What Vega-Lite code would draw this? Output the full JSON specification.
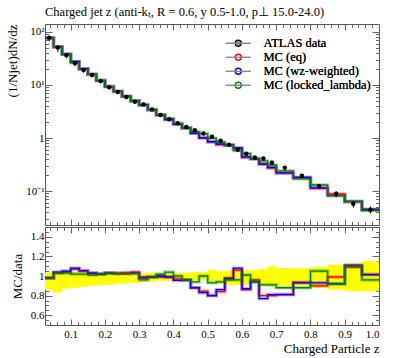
{
  "$schema": "https://vega.github.io/schema/vega-lite/v6.json",
  "background": "white",
  "padding": {"left": 6, "top": 5, "right": 5, "bottom": 5},
  "spacing": 0,
  "config": {
    "font": "Liberation Serif",
    "view": {"stroke": "#555", "strokeWidth": 1},
    "axis": {"domain": false, "grid": false, "tickColor": "#666", "tickWidth": 1, "labelFont": "Liberation Serif", "labelFontSize": 11, "labelColor": "#000", "titleFont": "Liberation Serif", "titleFontSize": 13, "titleFontWeight": "normal", "titleColor": "#000"},
    "concat": {"spacing": 0}
  },
  "datasets": {
    "atlas": [
      {"lo":0.025,"hi":0.05,"z":0.0375,"v":78,"ylo":67.1,"yhi":80.7,"blo":0.86,"bhi":1.035},
      {"lo":0.05,"hi":0.075,"z":0.0625,"v":50.6,"ylo":42.0,"yhi":52.4,"blo":0.83,"bhi":1.035},
      {"lo":0.075,"hi":0.1,"z":0.0875,"v":36.3,"ylo":31.6,"yhi":37.8,"blo":0.87,"bhi":1.04},
      {"lo":0.1,"hi":0.125,"z":0.1125,"v":25.7,"ylo":22.6,"yhi":26.7,"blo":0.88,"bhi":1.04},
      {"lo":0.125,"hi":0.15,"z":0.1375,"v":19.2,"ylo":17.1,"yhi":20.0,"blo":0.89,"bhi":1.04},
      {"lo":0.15,"hi":0.175,"z":0.1625,"v":15.4,"ylo":13.9,"yhi":15.9,"blo":0.9,"bhi":1.035},
      {"lo":0.175,"hi":0.2,"z":0.1875,"v":11.9,"ylo":10.8,"yhi":12.3,"blo":0.905,"bhi":1.035},
      {"lo":0.2,"hi":0.225,"z":0.2125,"v":9.04,"ylo":8.23,"yhi":9.31,"blo":0.91,"bhi":1.03},
      {"lo":0.225,"hi":0.25,"z":0.2375,"v":7.38,"ylo":6.79,"yhi":7.6,"blo":0.92,"bhi":1.03},
      {"lo":0.25,"hi":0.275,"z":0.2625,"v":5.94,"ylo":5.49,"yhi":6.12,"blo":0.925,"bhi":1.03},
      {"lo":0.275,"hi":0.3,"z":0.2875,"v":4.84,"ylo":4.5,"yhi":4.99,"blo":0.93,"bhi":1.03},
      {"lo":0.3,"hi":0.325,"z":0.3125,"v":4.3,"ylo":4.04,"yhi":4.43,"blo":0.94,"bhi":1.03},
      {"lo":0.325,"hi":0.35,"z":0.3375,"v":3.45,"ylo":3.26,"yhi":3.55,"blo":0.945,"bhi":1.03},
      {"lo":0.35,"hi":0.375,"z":0.3625,"v":2.72,"ylo":2.58,"yhi":2.8,"blo":0.95,"bhi":1.03},
      {"lo":0.375,"hi":0.4,"z":0.3875,"v":2.25,"ylo":2.14,"yhi":2.32,"blo":0.95,"bhi":1.03},
      {"lo":0.4,"hi":0.425,"z":0.4125,"v":1.89,"ylo":1.8,"yhi":1.95,"blo":0.95,"bhi":1.03},
      {"lo":0.425,"hi":0.45,"z":0.4375,"v":1.61,"ylo":1.54,"yhi":1.67,"blo":0.955,"bhi":1.035},
      {"lo":0.45,"hi":0.475,"z":0.4625,"v":1.4,"ylo":1.34,"yhi":1.46,"blo":0.96,"bhi":1.04},
      {"lo":0.475,"hi":0.5,"z":0.4875,"v":1.21,"ylo":1.16,"yhi":1.26,"blo":0.96,"bhi":1.04},
      {"lo":0.5,"hi":0.525,"z":0.5125,"v":1.06,"ylo":1.0,"yhi":1.13,"blo":0.945,"bhi":1.065},
      {"lo":0.525,"hi":0.55,"z":0.5375,"v":0.89,"ylo":0.83,"yhi":0.93,"blo":0.93,"bhi":1.05},
      {"lo":0.55,"hi":0.575,"z":0.5625,"v":0.75,"ylo":0.68,"yhi":0.79,"blo":0.91,"bhi":1.055},
      {"lo":0.575,"hi":0.6,"z":0.5875,"v":0.6,"ylo":0.546,"yhi":0.645,"blo":0.91,"bhi":1.075},
      {"lo":0.6,"hi":0.625,"z":0.6125,"v":0.505,"ylo":0.46,"yhi":0.535,"blo":0.91,"bhi":1.06},
      {"lo":0.625,"hi":0.65,"z":0.6375,"v":0.43,"ylo":0.396,"yhi":0.458,"blo":0.92,"bhi":1.065},
      {"lo":0.65,"hi":0.675,"z":0.6625,"v":0.41,"ylo":0.369,"yhi":0.439,"blo":0.9,"bhi":1.07},
      {"lo":0.675,"hi":0.7,"z":0.6875,"v":0.342,"ylo":0.306,"yhi":0.376,"blo":0.895,"bhi":1.1},
      {"lo":0.7,"hi":0.75,"z":0.725,"v":0.275,"ylo":0.248,"yhi":0.297,"blo":0.9,"bhi":1.08},
      {"lo":0.75,"hi":0.8,"z":0.775,"v":0.194,"ylo":0.175,"yhi":0.21,"blo":0.9,"bhi":1.08},
      {"lo":0.8,"hi":0.85,"z":0.825,"v":0.124,"ylo":0.109,"yhi":0.135,"blo":0.88,"bhi":1.09},
      {"lo":0.85,"hi":0.9,"z":0.875,"v":0.089,"ylo":0.0765,"yhi":0.0992,"blo":0.86,"bhi":1.115},
      {"lo":0.9,"hi":0.95,"z":0.925,"v":0.0575,"ylo":0.0486,"yhi":0.065,"blo":0.845,"bhi":1.13},
      {"lo":0.95,"hi":1.0,"z":0.975,"v":0.0444,"ylo":0.0375,"yhi":0.0511,"blo":0.845,"bhi":1.15}
    ],
    "mc": [
      {"s":"MC (eq)","lo":0.025,"hi":0.05,"v":76.4,"r":0.98},
      {"s":"MC (eq)","lo":0.05,"hi":0.075,"v":52.1,"r":1.03},
      {"s":"MC (eq)","lo":0.075,"hi":0.1,"v":37.8,"r":1.04},
      {"s":"MC (eq)","lo":0.1,"hi":0.125,"v":27.5,"r":1.07},
      {"s":"MC (eq)","lo":0.125,"hi":0.15,"v":20.2,"r":1.05},
      {"s":"MC (eq)","lo":0.15,"hi":0.175,"v":15.9,"r":1.03},
      {"s":"MC (eq)","lo":0.175,"hi":0.2,"v":12.1,"r":1.02},
      {"s":"MC (eq)","lo":0.2,"hi":0.225,"v":9.31,"r":1.03},
      {"s":"MC (eq)","lo":0.225,"hi":0.25,"v":7.6,"r":1.03},
      {"s":"MC (eq)","lo":0.25,"hi":0.275,"v":6.15,"r":1.035},
      {"s":"MC (eq)","lo":0.275,"hi":0.3,"v":5.03,"r":1.04},
      {"s":"MC (eq)","lo":0.3,"hi":0.325,"v":4.26,"r":0.99},
      {"s":"MC (eq)","lo":0.325,"hi":0.35,"v":3.42,"r":0.99},
      {"s":"MC (eq)","lo":0.35,"hi":0.375,"v":2.69,"r":0.99},
      {"s":"MC (eq)","lo":0.375,"hi":0.4,"v":2.23,"r":0.99},
      {"s":"MC (eq)","lo":0.4,"hi":0.425,"v":1.83,"r":0.97},
      {"s":"MC (eq)","lo":0.425,"hi":0.45,"v":1.55,"r":0.96},
      {"s":"MC (eq)","lo":0.45,"hi":0.475,"v":1.23,"r":0.88},
      {"s":"MC (eq)","lo":0.475,"hi":0.5,"v":1.02,"r":0.845},
      {"s":"MC (eq)","lo":0.5,"hi":0.525,"v":0.85,"r":0.8},
      {"s":"MC (eq)","lo":0.525,"hi":0.55,"v":0.75,"r":0.84},
      {"s":"MC (eq)","lo":0.55,"hi":0.575,"v":0.735,"r":0.98},
      {"s":"MC (eq)","lo":0.575,"hi":0.6,"v":0.64,"r":1.06},
      {"s":"MC (eq)","lo":0.6,"hi":0.625,"v":0.43,"r":0.86},
      {"s":"MC (eq)","lo":0.625,"hi":0.65,"v":0.41,"r":0.96},
      {"s":"MC (eq)","lo":0.65,"hi":0.675,"v":0.33,"r":0.8},
      {"s":"MC (eq)","lo":0.675,"hi":0.7,"v":0.27,"r":0.8},
      {"s":"MC (eq)","lo":0.7,"hi":0.75,"v":0.22,"r":0.81},
      {"s":"MC (eq)","lo":0.75,"hi":0.8,"v":0.18,"r":0.935},
      {"s":"MC (eq)","lo":0.8,"hi":0.85,"v":0.112,"r":0.9},
      {"s":"MC (eq)","lo":0.85,"hi":0.9,"v":0.088,"r":0.99},
      {"s":"MC (eq)","lo":0.9,"hi":0.95,"v":0.063,"r":1.09},
      {"s":"MC (eq)","lo":0.95,"hi":1.0,"v":0.045,"r":1.015},
      {"s":"MC (wz-weighted)","lo":0.025,"hi":0.05,"v":76.4,"r":0.98},
      {"s":"MC (wz-weighted)","lo":0.05,"hi":0.075,"v":52.6,"r":1.04},
      {"s":"MC (wz-weighted)","lo":0.075,"hi":0.1,"v":38.1,"r":1.05},
      {"s":"MC (wz-weighted)","lo":0.1,"hi":0.125,"v":27.8,"r":1.08},
      {"s":"MC (wz-weighted)","lo":0.125,"hi":0.15,"v":20.3,"r":1.055},
      {"s":"MC (wz-weighted)","lo":0.15,"hi":0.175,"v":15.9,"r":1.03},
      {"s":"MC (wz-weighted)","lo":0.175,"hi":0.2,"v":12.1,"r":1.02},
      {"s":"MC (wz-weighted)","lo":0.2,"hi":0.225,"v":9.31,"r":1.03},
      {"s":"MC (wz-weighted)","lo":0.225,"hi":0.25,"v":7.56,"r":1.025},
      {"s":"MC (wz-weighted)","lo":0.25,"hi":0.275,"v":6.09,"r":1.025},
      {"s":"MC (wz-weighted)","lo":0.275,"hi":0.3,"v":4.99,"r":1.03},
      {"s":"MC (wz-weighted)","lo":0.3,"hi":0.325,"v":4.21,"r":0.98},
      {"s":"MC (wz-weighted)","lo":0.325,"hi":0.35,"v":3.42,"r":0.99},
      {"s":"MC (wz-weighted)","lo":0.35,"hi":0.375,"v":2.72,"r":1.0},
      {"s":"MC (wz-weighted)","lo":0.375,"hi":0.4,"v":2.23,"r":0.99},
      {"s":"MC (wz-weighted)","lo":0.4,"hi":0.425,"v":1.8,"r":0.955},
      {"s":"MC (wz-weighted)","lo":0.425,"hi":0.45,"v":1.55,"r":0.96},
      {"s":"MC (wz-weighted)","lo":0.45,"hi":0.475,"v":1.23,"r":0.88},
      {"s":"MC (wz-weighted)","lo":0.475,"hi":0.5,"v":1.0,"r":0.83},
      {"s":"MC (wz-weighted)","lo":0.5,"hi":0.525,"v":0.85,"r":0.8},
      {"s":"MC (wz-weighted)","lo":0.525,"hi":0.55,"v":0.77,"r":0.86},
      {"s":"MC (wz-weighted)","lo":0.55,"hi":0.575,"v":0.73,"r":0.97},
      {"s":"MC (wz-weighted)","lo":0.575,"hi":0.6,"v":0.65,"r":1.08},
      {"s":"MC (wz-weighted)","lo":0.6,"hi":0.625,"v":0.44,"r":0.87},
      {"s":"MC (wz-weighted)","lo":0.625,"hi":0.65,"v":0.4,"r":0.94},
      {"s":"MC (wz-weighted)","lo":0.65,"hi":0.675,"v":0.32,"r":0.77},
      {"s":"MC (wz-weighted)","lo":0.675,"hi":0.7,"v":0.28,"r":0.81},
      {"s":"MC (wz-weighted)","lo":0.7,"hi":0.75,"v":0.22,"r":0.81},
      {"s":"MC (wz-weighted)","lo":0.75,"hi":0.8,"v":0.18,"r":0.93},
      {"s":"MC (wz-weighted)","lo":0.8,"hi":0.85,"v":0.115,"r":0.93},
      {"s":"MC (wz-weighted)","lo":0.85,"hi":0.9,"v":0.082,"r":0.92},
      {"s":"MC (wz-weighted)","lo":0.9,"hi":0.95,"v":0.064,"r":1.11},
      {"s":"MC (wz-weighted)","lo":0.95,"hi":1.0,"v":0.045,"r":1.015},
      {"s":"MC (locked_lambda)","lo":0.025,"hi":0.05,"v":76.4,"r":0.98},
      {"s":"MC (locked_lambda)","lo":0.05,"hi":0.075,"v":52.1,"r":1.03},
      {"s":"MC (locked_lambda)","lo":0.075,"hi":0.1,"v":37.4,"r":1.03},
      {"s":"MC (locked_lambda)","lo":0.1,"hi":0.125,"v":26.2,"r":1.02},
      {"s":"MC (locked_lambda)","lo":0.125,"hi":0.15,"v":19.6,"r":1.02},
      {"s":"MC (locked_lambda)","lo":0.15,"hi":0.175,"v":15.6,"r":1.01},
      {"s":"MC (locked_lambda)","lo":0.175,"hi":0.2,"v":12.1,"r":1.02},
      {"s":"MC (locked_lambda)","lo":0.2,"hi":0.225,"v":9.31,"r":1.03},
      {"s":"MC (locked_lambda)","lo":0.225,"hi":0.25,"v":7.56,"r":1.025},
      {"s":"MC (locked_lambda)","lo":0.25,"hi":0.275,"v":6.09,"r":1.025},
      {"s":"MC (locked_lambda)","lo":0.275,"hi":0.3,"v":4.96,"r":1.025},
      {"s":"MC (locked_lambda)","lo":0.3,"hi":0.325,"v":4.13,"r":0.96},
      {"s":"MC (locked_lambda)","lo":0.325,"hi":0.35,"v":3.42,"r":0.99},
      {"s":"MC (locked_lambda)","lo":0.35,"hi":0.375,"v":2.77,"r":1.02},
      {"s":"MC (locked_lambda)","lo":0.375,"hi":0.4,"v":2.34,"r":1.04},
      {"s":"MC (locked_lambda)","lo":0.4,"hi":0.425,"v":1.89,"r":1.0},
      {"s":"MC (locked_lambda)","lo":0.425,"hi":0.45,"v":1.55,"r":0.96},
      {"s":"MC (locked_lambda)","lo":0.45,"hi":0.475,"v":1.32,"r":0.94},
      {"s":"MC (locked_lambda)","lo":0.475,"hi":0.5,"v":1.21,"r":1.0},
      {"s":"MC (locked_lambda)","lo":0.5,"hi":0.525,"v":0.99,"r":0.93},
      {"s":"MC (locked_lambda)","lo":0.525,"hi":0.55,"v":0.84,"r":0.94},
      {"s":"MC (locked_lambda)","lo":0.55,"hi":0.575,"v":0.72,"r":0.96},
      {"s":"MC (locked_lambda)","lo":0.575,"hi":0.6,"v":0.58,"r":0.96},
      {"s":"MC (locked_lambda)","lo":0.6,"hi":0.625,"v":0.51,"r":1.01},
      {"s":"MC (locked_lambda)","lo":0.625,"hi":0.65,"v":0.41,"r":0.95},
      {"s":"MC (locked_lambda)","lo":0.65,"hi":0.675,"v":0.37,"r":0.91},
      {"s":"MC (locked_lambda)","lo":0.675,"hi":0.7,"v":0.31,"r":0.91},
      {"s":"MC (locked_lambda)","lo":0.7,"hi":0.75,"v":0.24,"r":0.88},
      {"s":"MC (locked_lambda)","lo":0.75,"hi":0.8,"v":0.17,"r":0.88},
      {"s":"MC (locked_lambda)","lo":0.8,"hi":0.85,"v":0.13,"r":1.05},
      {"s":"MC (locked_lambda)","lo":0.85,"hi":0.9,"v":0.082,"r":0.92},
      {"s":"MC (locked_lambda)","lo":0.9,"hi":0.95,"v":0.063,"r":1.1},
      {"s":"MC (locked_lambda)","lo":0.95,"hi":1.0,"v":0.043,"r":0.96}
    ]
  },
  "vconcat": [
    {
      "width": 334,
      "height": 201,
      "title": {"text": "Charged jet z (anti-kₜ, R = 0.6, y 0.5-1.0, p⊥ 15.0-24.0)", "anchor": "start", "frame": "group", "font": "Liberation Serif", "fontSize": 12.5, "fontWeight": "normal", "color": "#000", "offset": 5},
      "layer": [
        {
          "data": {"name": "mc"},
          "mark": {"type": "point", "filled": false, "opacity": 0, "strokeWidth": 1.4},
          "encoding": {
            "x": {"field": "lo", "type": "quantitative", "scale": {"domain": [0.025, 1.0], "nice": false, "zero": false}, "axis": null},
            "y": {"field": "v", "type": "quantitative", "scale": {"type": "log", "domain": [0.0229, 141], "nice": false}, "axis": null},
            "color": {"field": "s", "type": "nominal", "title": null,
              "scale": {"domain": ["ATLAS data", "MC (eq)", "MC (wz-weighted)", "MC (locked_lambda)"], "range": ["#000000", "#ff0000", "#0000ff", "#008000"]},
              "legend": {"orient": "none", "legendX": 187, "legendY": 13, "title": null, "padding": 0, "symbolSize": 36, "symbolStrokeWidth": 1.4, "symbolOpacity": 1, "symbolOffset": 0, "labelOffset": 19, "labelFont": "Liberation Serif", "labelFontSize": 12.5, "labelColor": "#000", "rowPadding": 1}},
            "shape": {"field": "s", "type": "nominal", "title": null,
              "scale": {"domain": ["ATLAS data", "MC (eq)", "MC (wz-weighted)", "MC (locked_lambda)"], "range": ["M-4.2,0L4.2,0M0.55,0A0.55,0.55,0,1,1,-0.55,0A0.55,0.55,0,1,1,0.55,0Z", "M-4.2,0L4.2,0", "M-4.2,0L4.2,0", "M-4.2,0L4.2,0"]},
              "legend": {"orient": "none", "legendX": 187, "legendY": 13, "title": null, "padding": 0, "symbolSize": 36, "symbolStrokeWidth": 1.4, "symbolOpacity": 1, "symbolOffset": 0, "labelOffset": 19, "labelFont": "Liberation Serif", "labelFontSize": 12.5, "labelColor": "#000", "rowPadding": 1}}
          }
        },
        {
          "data": {"name": "mc"},
          "transform": [{"fold": ["lo", "hi"], "as": ["edge_name", "edge"]}],
          "mark": {"type": "line", "strokeWidth": 3.5, "opacity": 0.3},
          "encoding": {
            "x": {"field": "edge", "type": "quantitative",
              "axis": {"orient": "bottom", "title": null, "labels": false, "values": [0.04,0.06,0.08,0.1,0.12,0.14,0.16,0.18,0.2,0.22,0.24,0.26,0.28,0.3,0.32,0.34,0.36,0.38,0.4,0.42,0.44,0.46,0.48,0.5,0.52,0.54,0.56,0.58,0.6,0.62,0.64,0.66,0.68,0.7,0.72,0.74,0.76,0.78,0.8,0.82,0.84,0.86,0.88,0.9,0.92,0.94,0.96,0.98,1],
                "tickSize": {"condition": {"test": "indexof([0.1,0.2,0.3,0.4,0.5,0.6,0.7,0.8,0.9,1],datum.value)>=0", "value": -6}, "value": -3.5}}},
            "y": {"field": "v", "type": "quantitative",
              "axis": {"orient": "left", "title": "(1/Njet)dN/dz", "titleAnchor": "end", "titlePadding": 6, "labelPadding": 8,
                "values": [0.03,0.04,0.05,0.06,0.07,0.08,0.09,0.1,0.2,0.3,0.4,0.5,0.6,0.7,0.8,0.9,1,2,3,4,5,6,7,8,9,10,20,30,40,50,60,70,80,90,100],
                "labelExpr": "datum.value == 100 ? '10²' : datum.value == 10 ? '10¹' : datum.value == 1 ? '1' : datum.value == 0.1 ? '10⁻¹' : ''",
                "tickSize": {"condition": {"test": "indexof([0.1,1,10,100],datum.value)>=0", "value": -7}, "value": -3.5}}},
            "color": {"field": "s", "type": "nominal", "title": null},
            "order": [{"field": "edge", "type": "quantitative"}, {"field": "edge_name", "type": "nominal"}]
          }
        },
        {
          "data": {"name": "mc"},
          "transform": [{"fold": ["lo", "hi"], "as": ["edge_name", "edge"]}],
          "mark": {"type": "line", "strokeWidth": 1.3},
          "encoding": {
            "x": {"field": "edge", "type": "quantitative",
              "axis": {"orient": "top", "title": null, "labels": false, "values": [0.04,0.06,0.08,0.1,0.12,0.14,0.16,0.18,0.2,0.22,0.24,0.26,0.28,0.3,0.32,0.34,0.36,0.38,0.4,0.42,0.44,0.46,0.48,0.5,0.52,0.54,0.56,0.58,0.6,0.62,0.64,0.66,0.68,0.7,0.72,0.74,0.76,0.78,0.8,0.82,0.84,0.86,0.88,0.9,0.92,0.94,0.96,0.98,1],
                "tickSize": {"condition": {"test": "indexof([0.1,0.2,0.3,0.4,0.5,0.6,0.7,0.8,0.9,1],datum.value)>=0", "value": -6}, "value": -3.5}}},
            "y": {"field": "v", "type": "quantitative",
              "axis": {"orient": "right", "title": null, "labels": false,
                "values": [0.03,0.04,0.05,0.06,0.07,0.08,0.09,0.1,0.2,0.3,0.4,0.5,0.6,0.7,0.8,0.9,1,2,3,4,5,6,7,8,9,10,20,30,40,50,60,70,80,90,100],
                "tickSize": {"condition": {"test": "indexof([0.1,1,10,100],datum.value)>=0", "value": -7}, "value": -3.5}}},
            "color": {"field": "s", "type": "nominal", "title": null},
            "order": [{"field": "edge", "type": "quantitative"}, {"field": "edge_name", "type": "nominal"}]
          }
        },
        {
          "data": {"name": "atlas"},
          "mark": {"type": "rule", "color": "#000", "strokeWidth": 1},
          "encoding": {
            "x": {"field": "z", "type": "quantitative", "axis": null},
            "y": {"field": "ylo", "type": "quantitative", "axis": null},
            "y2": {"field": "yhi"}
          }
        },
        {
          "data": {"name": "atlas"},
          "mark": {"type": "point", "filled": true, "color": "#000", "size": 20, "opacity": 1},
          "encoding": {
            "x": {"field": "z", "type": "quantitative", "axis": null},
            "y": {"field": "v", "type": "quantitative", "axis": null}
          }
        }
      ],
      "resolve": {"axis": {"x": "independent", "y": "independent"}}
    },
    {
      "width": 334,
      "height": 98,
      "layer": [
        {
          "data": {"name": "atlas"},
          "mark": {"type": "rect", "color": "#ffff00", "opacity": 1},
          "encoding": {
            "x": {"field": "lo", "type": "quantitative", "scale": {"domain": [0.025, 1.0], "nice": false, "zero": false},
              "axis": {"orient": "bottom", "title": "Charged Particle z", "titleAnchor": "end", "titlePadding": 3, "labelPadding": 9,
                "values": [0.04,0.06,0.08,0.1,0.12,0.14,0.16,0.18,0.2,0.22,0.24,0.26,0.28,0.3,0.32,0.34,0.36,0.38,0.4,0.42,0.44,0.46,0.48,0.5,0.52,0.54,0.56,0.58,0.6,0.62,0.64,0.66,0.68,0.7,0.72,0.74,0.76,0.78,0.8,0.82,0.84,0.86,0.88,0.9,0.92,0.94,0.96,0.98,1],
                "labelExpr": "indexof([0.1,0.2,0.3,0.4,0.5,0.6,0.7,0.8,0.9,1],datum.value)>=0 ? format(datum.value, '.1f') : ''",
                "tickSize": {"condition": {"test": "indexof([0.1,0.2,0.3,0.4,0.5,0.6,0.7,0.8,0.9,1],datum.value)>=0", "value": -6}, "value": -3.5}}},
            "x2": {"field": "hi"},
            "y": {"field": "blo", "type": "quantitative", "scale": {"domain": [0.5, 1.5], "nice": false, "zero": false},
              "axis": {"orient": "left", "title": "MC/data", "titlePadding": 6, "labelPadding": 8,
                "values": [0.55,0.6,0.65,0.7,0.75,0.8,0.85,0.9,0.95,1,1.05,1.1,1.15,1.2,1.25,1.3,1.35,1.4,1.45],
                "labelExpr": "datum.value == 1 ? '1' : indexof([0.6,0.8,1.2,1.4],datum.value)>=0 ? format(datum.value, '.1f') : ''",
                "tickSize": {"condition": {"test": "indexof([0.6,0.8,1,1.2,1.4],datum.value)>=0", "value": -7}, "value": -3.5}}},
            "y2": {"field": "bhi"}
          }
        },
        {
          "mark": {"type": "rule", "color": "#555", "strokeWidth": 1},
          "encoding": {
            "y": {"datum": 1, "type": "quantitative",
              "axis": {"orient": "right", "title": null, "labels": false,
                "values": [0.55,0.6,0.65,0.7,0.75,0.8,0.85,0.9,0.95,1,1.05,1.1,1.15,1.2,1.25,1.3,1.35,1.4,1.45],
                "tickSize": {"condition": {"test": "indexof([0.6,0.8,1,1.2,1.4],datum.value)>=0", "value": -7}, "value": -3.5}}}
          }
        },
        {
          "data": {"name": "mc"},
          "transform": [{"fold": ["lo", "hi"], "as": ["edge_name", "edge"]}],
          "mark": {"type": "line", "strokeWidth": 3.5, "opacity": 0.3},
          "encoding": {
            "x": {"field": "edge", "type": "quantitative", "axis": null},
            "y": {"field": "r", "type": "quantitative", "axis": null},
            "color": {"field": "s", "type": "nominal",
              "scale": {"domain": ["ATLAS data", "MC (eq)", "MC (wz-weighted)", "MC (locked_lambda)"], "range": ["#000000", "#ff0000", "#0000ff", "#008000"]}, "legend": null},
            "order": [{"field": "edge", "type": "quantitative"}, {"field": "edge_name", "type": "nominal"}]
          }
        },
        {
          "data": {"name": "mc"},
          "transform": [{"fold": ["lo", "hi"], "as": ["edge_name", "edge"]}],
          "mark": {"type": "line", "strokeWidth": 1.3},
          "encoding": {
            "x": {"field": "edge", "type": "quantitative",
              "axis": {"orient": "top", "title": null, "labels": false, "values": [0.04,0.06,0.08,0.1,0.12,0.14,0.16,0.18,0.2,0.22,0.24,0.26,0.28,0.3,0.32,0.34,0.36,0.38,0.4,0.42,0.44,0.46,0.48,0.5,0.52,0.54,0.56,0.58,0.6,0.62,0.64,0.66,0.68,0.7,0.72,0.74,0.76,0.78,0.8,0.82,0.84,0.86,0.88,0.9,0.92,0.94,0.96,0.98,1],
                "tickSize": {"condition": {"test": "indexof([0.1,0.2,0.3,0.4,0.5,0.6,0.7,0.8,0.9,1],datum.value)>=0", "value": -6}, "value": -3.5}}},
            "y": {"field": "r", "type": "quantitative", "axis": null},
            "color": {"field": "s", "type": "nominal", "legend": null},
            "order": [{"field": "edge", "type": "quantitative"}, {"field": "edge_name", "type": "nominal"}]
          }
        }
      ],
      "resolve": {"axis": {"x": "independent", "y": "independent"}}
    }
  ],
  "resolve": {"scale": {"color": "independent"}, "legend": {"color": "independent"}}
}
